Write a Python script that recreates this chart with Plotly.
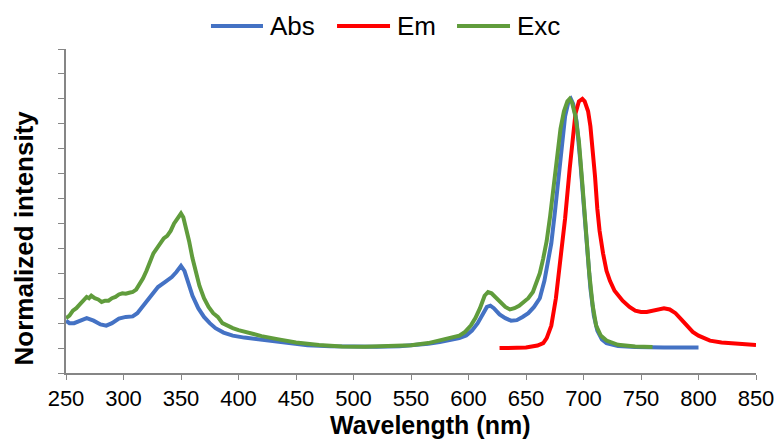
import plotly.graph_objects as go

# ---- data ----
abs_x = [250, 253, 257, 262, 268, 274, 280, 285, 290, 296, 302, 308, 312, 318, 324, 330, 336, 342, 346, 350,
         353, 356, 360, 365, 370, 375, 380, 387, 395, 405, 420, 440, 460, 480, 500, 520, 540, 555, 565, 575,
         585, 592, 598, 603, 608, 612, 616, 619, 622, 627, 632, 637, 642, 647, 652, 657, 662, 666, 669, 672,
         675, 678, 681, 684, 687, 689, 691, 694, 697, 700, 703, 706, 709, 712, 716, 720, 730, 745, 770, 800]
abs_y = [0.11, 0.10, 0.10, 0.11, 0.12, 0.11, 0.095, 0.09, 0.10, 0.118, 0.125, 0.127, 0.14, 0.175, 0.21, 0.245,
         0.265, 0.285, 0.305, 0.33, 0.31, 0.265, 0.21, 0.16, 0.125, 0.10, 0.08, 0.062, 0.05, 0.042, 0.033, 0.02,
         0.011, 0.007, 0.005, 0.005, 0.007, 0.011, 0.017, 0.024, 0.032, 0.04, 0.05, 0.07, 0.10, 0.135, 0.165,
         0.17, 0.16, 0.135, 0.12, 0.11, 0.112, 0.125, 0.14, 0.165, 0.20, 0.27, 0.34, 0.42, 0.54, 0.68, 0.82,
         0.93, 0.99, 1.0, 0.98, 0.91, 0.76, 0.57, 0.40, 0.24, 0.13, 0.07, 0.035, 0.02, 0.008, 0.004, 0.002, 0.002]

em_x = [627, 640, 650, 660, 665, 668, 672, 676, 680, 684, 688, 690, 693, 696, 699, 701, 704, 706, 708, 710,
        712, 714, 717, 720, 723, 727, 734, 740, 745, 750, 755, 760, 765, 770, 775, 780, 785, 790, 795, 800,
        805, 810, 820, 830, 840, 850]
em_y = [0.0, 0.0, 0.002, 0.01, 0.02, 0.04, 0.09, 0.20, 0.36, 0.52, 0.72, 0.80, 0.94, 0.99, 1.0, 0.99, 0.95,
        0.89, 0.80, 0.69, 0.56, 0.47, 0.38, 0.31, 0.27, 0.23, 0.19, 0.165, 0.15, 0.145, 0.145, 0.15, 0.155,
        0.16, 0.155, 0.14, 0.115, 0.09, 0.065, 0.05, 0.038, 0.03, 0.022, 0.018, 0.014, 0.012]

exc_x = [250, 253, 256, 259, 262, 265, 268, 270, 272, 275, 278, 281, 284, 287, 290, 293, 296, 299, 302, 305,
         308, 311, 314, 317, 320, 323, 326, 329, 332, 335, 338, 341, 344, 347, 350, 352, 354, 357, 360, 363,
         366, 370, 374, 378, 382, 386, 390, 395, 400, 410, 420, 435, 450, 470, 490, 510, 530, 550, 565, 575,
         585, 592, 597, 602, 606, 610, 614, 617, 620, 624, 628, 632, 636, 640, 644, 648, 652, 656, 659, 662,
         665, 668, 671, 674, 677, 680, 683, 686, 688, 690, 693, 696, 699, 702, 705, 708, 711, 715, 720, 730,
         745, 760]
exc_y = [0.12, 0.13, 0.15, 0.16, 0.175, 0.19, 0.205, 0.20, 0.21, 0.20, 0.195, 0.185, 0.19, 0.19, 0.20, 0.205,
         0.215, 0.22, 0.218, 0.222, 0.225, 0.235, 0.255, 0.28, 0.31, 0.35, 0.38, 0.40, 0.42, 0.44, 0.45, 0.47,
         0.50, 0.52, 0.54, 0.525, 0.49, 0.43, 0.36, 0.30, 0.25, 0.20, 0.165, 0.14, 0.125, 0.10, 0.09, 0.08,
         0.072, 0.06, 0.048, 0.035, 0.022, 0.012, 0.006, 0.005, 0.006, 0.011, 0.02, 0.03, 0.04, 0.05, 0.065,
         0.09, 0.12, 0.16, 0.21, 0.225, 0.22, 0.20, 0.18, 0.165, 0.155, 0.16, 0.17, 0.185, 0.20, 0.225, 0.26,
         0.30, 0.36, 0.43, 0.53, 0.65, 0.79, 0.88, 0.95, 0.99, 1.0, 0.985, 0.93, 0.83, 0.66, 0.47, 0.30, 0.17,
         0.09, 0.05, 0.03, 0.013, 0.006, 0.004]

series_names = ["Abs", "Em", "Exc"]
series_colors = ["#4472C4", "#FF0000", "#609C3C"]

FONT = "Arial, Liberation Sans, sans-serif"
AXIS_GRAY = "#868686"

fig = go.Figure()
for name, xs, ys, col in zip(series_names, [abs_x, em_x, exc_x], [abs_y, em_y, exc_y], series_colors):
    fig.add_trace(go.Scatter(x=xs, y=ys, name=name, mode="lines",
                             line=dict(color=col, width=4), showlegend=False))

# manual legend (long line samples like the reference)
legend_line_x = [(0.2101, 0.2855), (0.3928, 0.4696), (0.5667, 0.6435)]
legend_y = 1.071
shapes = []
annotations = []
for name, col, (x0, x1) in zip(series_names, series_colors, legend_line_x):
    shapes.append(dict(type="line", xref="paper", yref="paper", x0=x0, x1=x1, y0=legend_y, y1=legend_y,
                       line=dict(color=col, width=4)))
    annotations.append(dict(text=name, xref="paper", yref="paper", x=x1 + 0.007, y=legend_y,
                            xanchor="left", yanchor="middle", showarrow=False,
                            font=dict(size=26, family=FONT, color="black")))

annotations += [
    dict(text="<b>Wavelength (nm)</b>", xref="paper", yref="paper", x=0.5275, y=-0.161,
         xanchor="center", yanchor="middle", showarrow=False, font=dict(size=25, family=FONT)),
    dict(text="<b>Normalized intensity</b>", xref="paper", yref="paper", x=-0.061, y=0.418,
         xanchor="center", yanchor="middle", textangle=-90, showarrow=False,
         font=dict(size=26, family=FONT)),
]

fig.update_layout(
    width=774, height=441,
    margin=dict(l=66, r=18, t=49, b=68, autoexpand=False),
    paper_bgcolor="white", plot_bgcolor="white",
    font=dict(family=FONT, color="black"),
    showlegend=False,
    xaxis=dict(range=[250, 850], dtick=50, tick0=250, showgrid=False, zeroline=False,
               showline=True, linecolor=AXIS_GRAY, linewidth=1.5,
               ticks="outside", ticklen=5, tickcolor=AXIS_GRAY, tickwidth=1.2,
               ticklabeloverflow="allow",
               tickfont=dict(size=22, family=FONT)),
    yaxis=dict(range=[-0.1, 1.2], dtick=0.1, tick0=-0.1, showgrid=False, zeroline=False,
               showline=True, linecolor=AXIS_GRAY, linewidth=1.5,
               ticks="outside", ticklen=6, tickcolor=AXIS_GRAY, tickwidth=1.2,
               showticklabels=False),
    shapes=shapes,
    annotations=annotations,
)

fig.write_html("out.html")
